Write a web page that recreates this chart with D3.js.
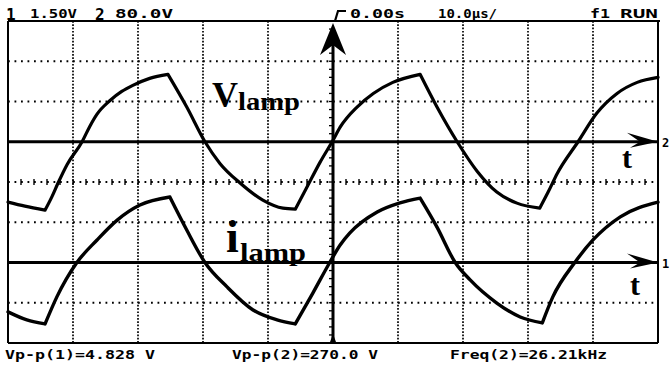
<!DOCTYPE html>
<html>
<head>
<meta charset="utf-8">
<script src="https://cdn.jsdelivr.net/npm/d3@7"></script>
<style>
body{margin:0;background:#fff;}
svg{display:block;}
</style>
</head>
<body>
<svg id="scope" width="671" height="366"></svg>
<script>
// time base in us, 10 us/div, trigger at the centre
var timeDomain = [-50, 50];

// ch2 : lamp voltage (80.0 V/div)
var vlampT = [-50,-47.4,-44.3,-43.2,-42.3,-40.9,-38.6,-37.4,-36.3,-34.3,-32.5,-30.8,-28.2,-25.4,-22.5,-19.7,-17.4,-14.3,-10.8,-7.7,-5.8,-4.0,-2.0,0,1.1,3.7,6.2,9.2,13.4,16.0,19.1,22.2,25.2,28.3,31.8,33.1,34.5,37.7,40.6,43.7,46.8,50];
var vlampV = [-120,-128,-136,-108,-82,-45,0,31,55,82,100,112,126,134,69,0,-43,-82,-116,-132,-134,-90,-41,3,29,69,96,118,134,69,0,-59,-100,-122,-132,-100,-63,0,57,96,118,128];

// ch1 : lamp current probe (1.50 V/div)
var ilampT = [-50,-47.1,-44.3,-42.5,-39.4,-36.3,-33.2,-29.7,-25.1,-22.5,-19.7,-16.3,-12.3,-8.6,-5.8,-3.1,-0.5,1.1,2.6,6.8,10.3,13.4,16.0,18.8,21.1,25.2,28.8,32.2,33.8,37.2,40.0,44.2,50];
var ilampV = [-1.84,-2.14,-2.29,-1.29,0,0.84,1.58,2.14,2.44,1.21,0,-0.91,-1.77,-2.14,-2.29,-1.14,0,0.65,1.10,1.88,2.22,2.40,1.32,0,-0.65,-1.51,-2.03,-2.25,-1.29,0,0.84,1.70,2.25];

var chScale = [1.50, 80.0];     // V/div for ch1, ch2
var chOffset = [-2, 1];         // ground position in divisions
var readouts = ["Vp-p(1)=4.828 V", "Vp-p(2)=270.0 V", "Freq(2)=26.21kHz"];

var svg = d3.select('#scope');
// (window.top is taken, so plotTop)
var left = 8, right = 658, plotTop = 21, bottom = 343;
var mono = "'DejaVu Sans Mono', monospace";
var serif = "'Liberation Serif', 'Times New Roman', serif";

var x = d3.scaleLinear().domain(timeDomain).range([left, right]);
var div = d3.scaleLinear().domain([-4, 4]).range([bottom, plotTop]);
var yI = function(v){ return div(chOffset[0] + v / chScale[0]); };
var yV = function(v){ return div(chOffset[1] + v / chScale[1]); };

//grid
var g = svg.append('g');
g.selectAll('line.vg')
	.data(x.ticks(10).filter(function(t){ return t > timeDomain[0] && t < timeDomain[1] && t !== 0; }))
	.enter().append('line')
	.attr('x1', x).attr('x2', x)
	.attr('y1', plotTop).attr('y2', bottom)
	.attr('stroke', '#000').attr('stroke-width', 1.7)
	.attr('stroke-dasharray', '1.7,1.6');

g.selectAll('line.hg')
	.data(div.ticks(8).filter(function(d){ return d === 3 || d === 2 || d === -1 || d === -3; }))
	.enter().append('line')
	.attr('x1', left).attr('x2', right)
	.attr('y1', div).attr('y2', div)
	.attr('stroke', '#000').attr('stroke-width', 1.8)
	.attr('stroke-dasharray', '1.8,4.7');

// centre line : dots and minor ticks
g.append('line')
	.attr('x1', left).attr('x2', right)
	.attr('y1', div(0)).attr('y2', div(0))
	.attr('stroke', '#000').attr('stroke-width', 1.8)
	.attr('stroke-dasharray', '1.8,4.7');
g.selectAll('line.ct')
	.data(x.ticks(50))
	.enter().append('line')
	.attr('x1', x).attr('x2', x)
	.attr('y1', div(0) - 3).attr('y2', div(0) + 3)
	.attr('stroke', '#000').attr('stroke-width', 1.4);

// frame
g.append('line').attr('x1', left).attr('x2', right + 2).attr('y1', plotTop).attr('y2', plotTop)
	.attr('stroke', '#000').attr('stroke-width', 2);
g.append('line').attr('x1', left).attr('x2', right).attr('y1', bottom).attr('y2', bottom)
	.attr('stroke', '#000').attr('stroke-width', 2);
g.append('line').attr('x1', left).attr('x2', left).attr('y1', plotTop).attr('y2', bottom)
	.attr('stroke', '#000').attr('stroke-width', 2);
g.append('line').attr('x1', right).attr('x2', right).attr('y1', plotTop).attr('y2', bottom)
	.attr('stroke', '#000').attr('stroke-width', 2);

// vertical axis at t=0 with arrow
var x0 = x(0);
g.append('line').attr('x1', x0).attr('x2', x0).attr('y1', plotTop + 18).attr('y2', bottom)
	.attr('stroke', '#000').attr('stroke-width', 3);
g.selectAll('line.vt')
	.data(div.ticks(40))
	.enter().append('line')
	.attr('x1', x0 - 4).attr('x2', x0 + 1)
	.attr('y1', div).attr('y2', div)
	.attr('stroke', '#000').attr('stroke-width', 1.3);
g.append('path')
	.attr('d', 'M' + x0 + ',' + (plotTop + 2) + ' L' + (x0 + 13) + ',' + (plotTop + 34) + ' L' + x0 + ',' + (plotTop + 24) + ' L' + (x0 - 13) + ',' + (plotTop + 34) + ' Z')
	.attr('fill', '#000');

// zero lines of each trace with arrow and t
[yV(0), yI(0)].forEach(function(yy, k){
	g.append('line').attr('x1', left).attr('x2', right).attr('y1', yy).attr('y2', yy)
		.attr('stroke', '#000').attr('stroke-width', 3);
	g.append('path')
		.attr('d', 'M' + right + ',' + yy + ' L' + (right - 31) + ',' + (yy - 9) + ' L' + (right - 18) + ',' + yy + ' L' + (right - 28) + ',' + (yy + 6) + ' Z')
		.attr('fill', '#000');
	g.append('text')
		.attr('x', k === 0 ? 622 : 630).attr('y', yy + (k === 0 ? 26 : 32))
		.attr('font-family', serif).attr('font-weight', 'bold').attr('font-size', 30)
		.text('t');
	g.append('text')
		.attr('x', right + 4).attr('y', yy + 5)
		.attr('font-family', mono).attr('font-weight', 'bold').attr('font-size', 12)
		.text(k === 0 ? '2' : '1');
});

// traces: split at the turning points so the corners stay sharp,
// smooth (monotone) in between
function halfCycles(ts, vs){
	var pts = d3.zip(ts, vs), parts = [], start = 0;
	for(var i = 1; i < pts.length - 1; i++){
		if((vs[i] - vs[i-1]) * (vs[i+1] - vs[i]) < 0){
			parts.push(pts.slice(start, i + 1));
			start = i;
		}
	}
	parts.push(pts.slice(start));
	return parts;
}
var curveV = d3.line().curve(d3.curveMonotoneX)
	.x(function(d){ return x(d[0]); }).y(function(d){ return yV(d[1]); });
var curveI = d3.line().curve(d3.curveMonotoneX)
	.x(function(d){ return x(d[0]); }).y(function(d){ return yI(d[1]); });

g.append('path')
	.attr('d', halfCycles(vlampT, vlampV).map(function(p){ return curveV(p); }).join(''))
	.attr('fill', 'none').attr('stroke', '#000').attr('stroke-width', 3.2)
	.attr('stroke-linejoin', 'round').attr('stroke-linecap', 'round');
g.append('path')
	.attr('d', halfCycles(ilampT, ilampV).map(function(p){ return curveI(p); }).join(''))
	.attr('fill', 'none').attr('stroke', '#000').attr('stroke-width', 3.4)
	.attr('stroke-linejoin', 'round').attr('stroke-linecap', 'round');

// trace labels
g.append('text').attr('x', 212).attr('y', 107)
	.attr('font-family', serif).attr('font-weight', 'bold').attr('font-size', 36).text('V');
g.append('text').attr('x', 238).attr('y', 110)
	.attr('font-family', serif).attr('font-weight', 'bold').attr('font-size', 26)
	.attr('textLength', 62).attr('lengthAdjust', 'spacingAndGlyphs').text('lamp');
g.append('text').attr('x', 226).attr('y', 252)
	.attr('font-family', serif).attr('font-weight', 'bold').attr('font-size', 46).text('i');
g.append('text').attr('x', 240).attr('y', 261)
	.attr('font-family', serif).attr('font-weight', 'bold').attr('font-size', 26)
	.attr('textLength', 66).attr('lengthAdjust', 'spacingAndGlyphs').text('lamp');

// header
var hdr = svg.append('g').attr('font-family', mono).attr('font-weight', 'bold');
function htext(tx, px, py, size, len){
	var t = hdr.append('text').attr('x', px).attr('y', py).attr('font-size', size).text(tx);
	if(len){ t.attr('textLength', len).attr('lengthAdjust', 'spacingAndGlyphs'); }
	return t;
}
htext('1', 6, 20, 16);
htext(chScale[0].toFixed(2) + 'V', 30, 18, 12, 47);
htext('2', 95, 20, 16);
htext(chScale[1].toFixed(1) + 'V', 115, 18, 12, 58);
htext('0.00s', 350, 18, 12, 55);
htext('10.0\u00b5s/', 438, 18, 12, 59);
htext('f1', 590, 18, 12, 20);
htext('RUN', 620, 18, 12, 38);
// trigger marker
hdr.append('path').attr('d', 'M346,11 L338,11 L335,21').attr('fill', 'none')
	.attr('stroke', '#000').attr('stroke-width', 2.2);
svg.append('path')
	.attr('d', 'M' + (x0 - 3) + ',' + (bottom - 1) + ' L' + x0 + ',' + (bottom - 9) + ' L' + (x0 + 3) + ',' + (bottom - 1) + ' Z')
	.attr('fill', '#000');

// readouts
svg.append('g').attr('font-family', mono).attr('font-weight', 'bold').attr('font-size', 12)
	.selectAll('text').data(readouts).enter().append('text')
	.attr('x', function(d, i){ return [5, 232, 450][i]; })
	.attr('y', 359)
	.attr('textLength', function(d, i){ return [150, 146, 157][i]; })
	.attr('lengthAdjust', 'spacingAndGlyphs')
	.text(function(d){ return d; });
</script>
</body>
</html>
